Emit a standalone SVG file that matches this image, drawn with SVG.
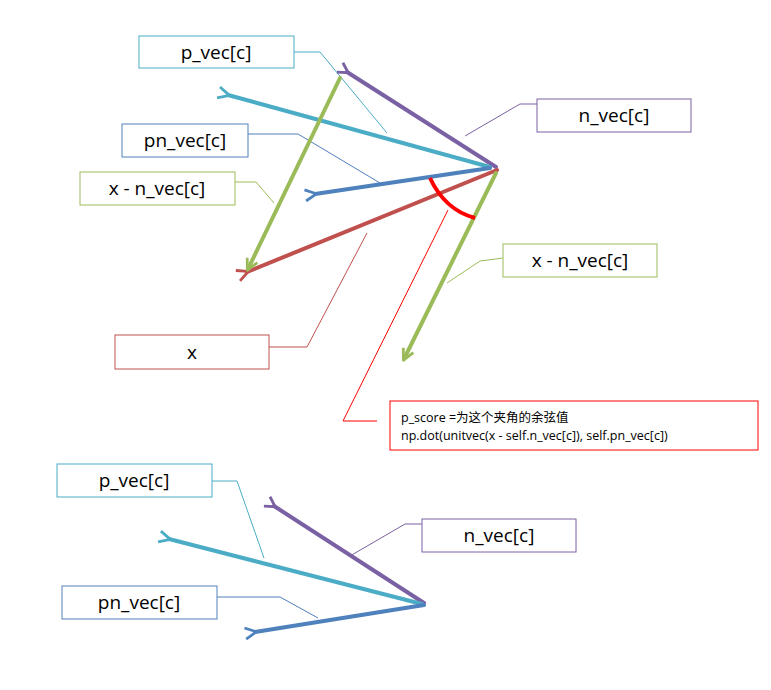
<svg xmlns="http://www.w3.org/2000/svg" width="771" height="690" viewBox="0 0 771 690">
<style>
.t{font-family:"Open Sans","Liberation Sans","Noto Sans CJK SC",sans-serif;font-size:19px;fill:#000;text-anchor:middle}
.b{fill:#fff;stroke-width:1}
.v{fill:none;stroke-width:4;stroke-linecap:round}
.c{fill:none;stroke-width:1}
</style>
<defs>
<marker id="ap" viewBox="0 0 10 10" refX="3" refY="5" markerWidth="3.5" markerHeight="3.5" orient="auto"><path d="M9,1 L2,5 L9,9" fill="none" stroke="#7a61a3" stroke-width="2"/></marker>
<marker id="ac" viewBox="0 0 10 10" refX="2" refY="5" markerWidth="3.5" markerHeight="3.5" orient="auto"><path d="M9,1 L1,5 L9,9" fill="none" stroke="#4aacc5" stroke-width="2"/></marker>
<marker id="ab" viewBox="0 0 10 10" refX="2" refY="5" markerWidth="3.5" markerHeight="3.5" orient="auto"><path d="M9,1 L1,5 L9,9" fill="none" stroke="#4f81bd" stroke-width="2"/></marker>
<marker id="ar" viewBox="0 0 10 10" refX="2" refY="5" markerWidth="3.5" markerHeight="3.5" orient="auto"><path d="M9,1 L1,5 L9,9" fill="none" stroke="#c0504d" stroke-width="2"/></marker>
<marker id="ag" viewBox="0 0 10 10" refX="8" refY="5" markerWidth="3.5" markerHeight="3.5" orient="auto"><path d="M1,1 L9,5 L1,9" fill="none" stroke="#9bbb59" stroke-width="2"/></marker>
</defs>
<g id="connectors">
<path class="c" stroke="#4aacc5" d="M294,52 H320 L387,133"/>
<path class="c" stroke="#7a61a3" d="M537,104 H520 L465,136"/>
<path class="c" stroke="#4f81bd" d="M248,134 H298 L380,183"/>
<path class="c" stroke="#9bbb59" d="M235,182 H256 L274,203"/>
<path class="c" stroke="#c0504d" d="M269,347 H307 L367,233"/>
<path class="c" stroke="#9bbb59" d="M503,258 L480,261 L447,283"/>
<path class="c" stroke="#ff0000" d="M448,210 L343,421 H377"/>
<path class="c" stroke="#4aacc5" d="M212,481 H237 L264,558"/>
<path class="c" stroke="#7a61a3" d="M422,524 H405 L350,556"/>
<path class="c" stroke="#4f81bd" d="M217,597 H280 L318,618"/>
<line class="v" stroke="#7a61a3" x1="496" y1="167" x2="347" y2="72" marker-end="url(#ap)"/>
<line class="v" stroke="#4aacc5" x1="490" y1="167" x2="228" y2="95" marker-end="url(#ac)"/>
<line class="v" stroke="#4f81bd" x1="490" y1="168" x2="315" y2="194" marker-end="url(#ab)"/>
<line class="v" stroke="#c0504d" x1="497" y1="170" x2="247" y2="272" marker-end="url(#ar)"/>
<line class="v" stroke="#9bbb59" x1="340" y1="78" x2="248" y2="269" marker-end="url(#ag)"/>
<line class="v" stroke="#9bbb59" x1="496" y1="173" x2="404" y2="359" marker-end="url(#ag)"/>
<path d="M430,178 Q445,210 475,218" fill="none" stroke="#ff0000" stroke-width="4"/>
<line class="v" stroke="#7a61a3" x1="424" y1="603" x2="274" y2="506" marker-end="url(#ap)"/>
<line class="v" stroke="#4aacc5" x1="422" y1="604" x2="169" y2="539" marker-end="url(#ac)"/>
<line class="v" stroke="#4f81bd" x1="424" y1="605" x2="255" y2="632" marker-end="url(#ab)"/>
</g>
<g id="p1"><rect class="b" stroke="#4aacc5" x="139" y="36" width="155" height="32"/><text class="t" x="216" y="59">p_vec[c]</text></g>
<g id="n1"><rect class="b" stroke="#7a61a3" x="537" y="99" width="154" height="33"/><text class="t" x="614" y="122">n_vec[c]</text></g>
<g id="pn1"><rect class="b" stroke="#4f81bd" x="122" y="124" width="126" height="33"/><text class="t" x="185" y="147">pn_vec[c]</text></g>
<g id="xn1"><rect class="b" stroke="#9bbb59" x="80" y="172" width="155" height="33"/><text class="t" x="157" y="195">x - n_vec[c]</text></g>
<g id="x"><rect class="b" stroke="#c0504d" x="115" y="335" width="154" height="34"/><text class="t" x="192" y="359">x</text></g>
<g id="xn2"><rect class="b" stroke="#9bbb59" x="503" y="244" width="154" height="33"/><text class="t" x="580" y="267">x - n_vec[c]</text></g>
<g id="note"><rect class="b" stroke="#ff0000" x="390" y="401" width="368" height="49"/>
<text font-family="'Open Sans','Liberation Sans','Noto Sans CJK SC',sans-serif" font-size="12.5" x="401" y="422">p_score =为这个夹角的余弦值</text>
<text font-family="'Open Sans','Liberation Sans','Noto Sans CJK SC',sans-serif" font-size="12.5" x="401" y="440">np.dot(unitvec(x - self.n_vec[c]), self.pn_vec[c])</text></g>
<g id="p2"><rect class="b" stroke="#4aacc5" x="57" y="464" width="155" height="33"/><text class="t" x="134" y="487">p_vec[c]</text></g>
<g id="n2"><rect class="b" stroke="#7a61a3" x="422" y="519" width="154" height="33"/><text class="t" x="499" y="542">n_vec[c]</text></g>
<g id="pn2"><rect class="b" stroke="#4f81bd" x="62" y="586" width="155" height="33"/><text class="t" x="139" y="609">pn_vec[c]</text></g>
</svg>
